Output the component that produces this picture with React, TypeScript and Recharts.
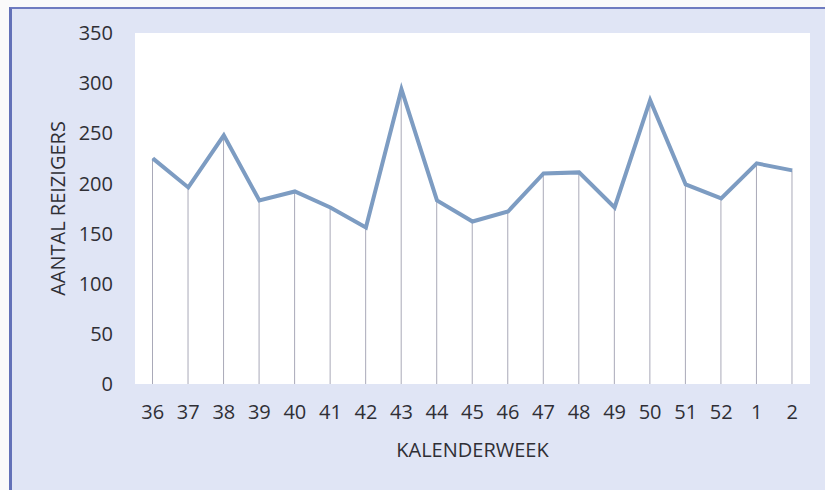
import React from "react";
import { Bar, CartesianGrid, ComposedChart, Label, Line, XAxis, YAxis } from "recharts";

const weken = ["36", "37", "38", "39", "40", "41", "42", "43", "44", "45", "46", "47", "48", "49", "50", "51", "52", "1", "2"];
const reizigers = [225, 196, 248, 183, 192, 176, 156, 294, 183, 162, 172, 210, 211, 176, 283, 199, 185, 220, 213];
const yTicks = [0, 50, 100, 150, 200, 250, 300, 350];

const data = weken.map((week, i) => ({ week, reizigers: reizigers[i] }));

const FONT = "'Open Sans', sans-serif";
const TEKST = "#2f2f35";

export default function App() {
  return (
    <div style={{ position: "absolute", left: 0, top: 0, width: 825, height: 490, background: "#fafafa" }}>
      <div
        style={{
          position: "absolute",
          left: 9,
          top: 7,
          right: 0,
          bottom: 0,
          background: "#e0e5f5",
          borderLeft: "3px solid #6371b8",
          borderTop: "2px solid #6f7cc0",
        }}
      />
      <div style={{ position: "absolute", left: 0, top: 0 }}>
        <ComposedChart
          width={825}
          height={490}
          data={data}
          margin={{ top: 33, right: 15, bottom: 33, left: 20 }}
          barCategoryGap={0}
        >
          <CartesianGrid horizontal={false} vertical={false} fill="#ffffff" stroke="none" />
          <XAxis
            dataKey="week"
            axisLine={false}
            tickLine={false}
            tickSize={0}
            tickMargin={21}
            height={73}
            interval={0}
            tick={{ fill: TEKST, fontSize: 20, fontFamily: FONT }}
          >
            <Label
              value="KALENDERWEEK"
              position="insideBottom"
              offset={0}
              style={{ fill: TEKST, fontSize: 20, fontFamily: FONT }}
            />
          </XAxis>
          <YAxis
            domain={[0, 350]}
            ticks={yTicks}
            axisLine={false}
            tickLine={false}
            tickSize={0}
            tickMargin={22}
            width={115}
            tick={{ fill: TEKST, fontSize: 20, fontFamily: FONT }}
          >
            <Label
              value="AANTAL REIZIGERS"
              angle={-90}
              position="insideLeft"
              offset={38}
              style={{ fill: TEKST, fontSize: 20, fontFamily: FONT, textAnchor: "middle" }}
            />
          </YAxis>
          <Bar dataKey="reizigers" barSize={1} fill="#a9a9b8" isAnimationActive={false} />
          <Line
            type="linear"
            dataKey="reizigers"
            stroke="#7d9cc2"
            strokeWidth={4}
            dot={false}
            activeDot={false}
            isAnimationActive={false}
          />
        </ComposedChart>
      </div>
    </div>
  );
}
